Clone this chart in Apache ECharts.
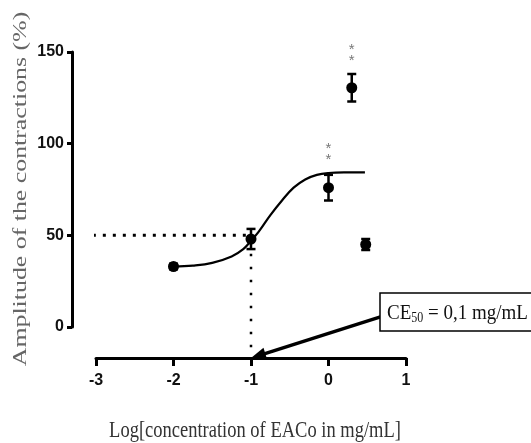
<!DOCTYPE html>
<html>
<head>
<meta charset="utf-8">
<script src="https://cdn.jsdelivr.net/npm/echarts@6/dist/echarts.min.js"></script>
<style>html,body{margin:0;padding:0;background:#fff;}#c{width:531px;height:443px;}</style>
</head>
<body>
<div id="c"></div>
<script>
// ---- data ----
const logConc   = [-2, -1, 0, 0.3, 0.48];
const amplitude = [33, 48, 76, 130.5, 45];
const sem       = [1.5, 5.5, 7, 7.5, 3];
// fitted sigmoid curve
const fitX = [-2, -1.75, -1.5, -1.25, -1.1, -1, -0.9, -0.75, -0.6, -0.45, -0.3, -0.15, 0, 0.2, 0.47];
const fitY = [33, 33.5, 35, 38.5, 42.5, 47, 52, 61, 69, 76, 80.5, 83, 84, 84.3, 84.3];
// significance marks
const sigX = [0, 0.3];
const sigY = [94, 148];
const sigText = ['*\n*', '*\n*'];
// EC50 annotation
const ec50Log = -1;
const ec50Level = 50;
const arrowStart = [0.67, 5.5];
const xTickValues = [-3, -2, -1, 0, 1];
const yTickValues = [0, 50, 100, 150];

// ---- layout ----
const gridLeft = 96, gridRight = 125, gridTop = 52, gridBottom = 116;
const xAxisOffsetPx = 31, yAxisOffsetPx = 24;
const plotH = 443 - gridTop - gridBottom;
const yMin = yTickValues[0], yMax = yTickValues[yTickValues.length - 1];
const xAxisLevel = -xAxisOffsetPx * (yMax - yMin) / plotH; // y value where the offset x axis lies

const chart = echarts.init(document.getElementById('c'));
const tickFont = "'Liberation Sans',Arial,sans-serif";
const serif = "'Liberation Serif','Times New Roman',serif";

chart.setOption({
  animation: false,
  backgroundColor: '#fff',
  grid: { left: gridLeft, right: gridRight, top: gridTop, bottom: gridBottom, containLabel: false },
  xAxis: {
    type: 'value', min: xTickValues[0], max: xTickValues[xTickValues.length - 1], interval: 1,
    offset: xAxisOffsetPx,
    axisLine: { show: true, onZero: false, lineStyle: { color: '#000', width: 3 } },
    axisTick: { show: true, length: 8, lineStyle: { color: '#000', width: 3 } },
    axisLabel: { color: '#111', fontFamily: tickFont, fontWeight: 'bold', fontSize: 16, margin: 15 },
    splitLine: { show: false }
  },
  yAxis: {
    type: 'value', min: yMin, max: yMax, interval: 50,
    offset: yAxisOffsetPx,
    axisLine: { show: true, onZero: false, lineStyle: { color: '#000', width: 3 } },
    axisTick: { show: true, length: 5, lineStyle: { color: '#000', width: 3 } },
    axisLabel: { color: '#111', fontFamily: tickFont, fontWeight: 'bold', fontSize: 16, margin: 8 },
    splitLine: { show: false }
  },
  graphic: [
    {
      type: 'text', x: 21, y: 189, rotation: Math.PI / 2, scaleX: 1.36,
      style: { text: 'Amplitude of the contractions (%)', fontFamily: serif, fontSize: 19, fill: '#666',
               align: 'center', verticalAlign: 'middle', textAlign: 'center', textVerticalAlign: 'middle' }
    },
    {
      type: 'text', x: 255, y: 431, scaleY: 1.22,
      style: { text: 'Log[concentration of EACo in mg/mL]', fontFamily: serif, fontSize: 18.5, fill: '#333',
               align: 'center', verticalAlign: 'middle', textAlign: 'center', textVerticalAlign: 'middle' }
    },
    {
      type: 'rect', z: 10, shape: { x: 380, y: 293, width: 170, height: 38 },
      style: { fill: '#fff', stroke: '#000', lineWidth: 1.5 }
    },
    {
      type: 'text', z: 11, x: 387, y: 313, scaleY: 1.15,
      style: {
        text: '{n|CE}{s|50}{n| = 0,1 mg/mL}', fill: '#111',
        verticalAlign: 'middle', textVerticalAlign: 'middle',
        rich: {
          n: { fontFamily: serif, fontSize: 19, fill: '#111', color: '#111' },
          s: { fontFamily: serif, fontSize: 12, fill: '#111', color: '#111', padding: [10, 0, 0, 0] }
        }
      }
    }
  ],
  series: [
    {
      name: 'fit', type: 'line', smooth: 0.4, showSymbol: false, symbol: 'none',
      data: fitX.map((x, i) => [x, fitY[i]]),
      lineStyle: { color: '#000', width: 2.2 }, z: 3
    },
    {
      name: 'hline', type: 'line', symbol: 'none', clip: false,
      data: [[xTickValues[0] - 0.17, ec50Level], [ec50Log, ec50Level]],
      lineStyle: { color: '#000', width: 3, type: [3, 7], cap: 'butt' }, z: 2
    },
    {
      name: 'vline', type: 'line', symbol: 'none', clip: false,
      data: [[ec50Log, 40], [ec50Log, xAxisLevel]],
      lineStyle: { color: '#000', width: 2.5, type: [2.5, 10.5], cap: 'butt' }, z: 2
    },
    {
      name: 'arrow', type: 'custom', clip: false, z: 6,
      data: [[arrowStart[0], arrowStart[1], ec50Log, xAxisLevel]],
      renderItem: function (params, api) {
        const p0 = api.coord([api.value(0), api.value(1)]);
        const p1 = api.coord([api.value(2), api.value(3)]);
        const dx = p1[0] - p0[0], dy = p1[1] - p0[1];
        const len = Math.sqrt(dx * dx + dy * dy);
        const ux = dx / len, uy = dy / len;
        const hl = 15, hw = 6;
        const bx = p1[0] - ux * hl, by = p1[1] - uy * hl;
        return {
          type: 'group', children: [
            { type: 'line', shape: { x1: p0[0], y1: p0[1], x2: bx + ux * 2, y2: by + uy * 2 },
              style: { stroke: '#000', lineWidth: 3.5 } },
            { type: 'polygon', shape: { points: [[p1[0], p1[1]], [bx - uy * hw, by + ux * hw], [bx + uy * hw, by - ux * hw]] },
              style: { fill: '#000' } }
          ]
        };
      }
    },
    {
      name: 'err', type: 'custom', clip: false, z: 4,
      data: logConc.map((x, i) => [x, amplitude[i] - sem[i], amplitude[i] + sem[i]]),
      renderItem: function (params, api) {
        const x = api.value(0);
        const lo = api.coord([x, api.value(1)]);
        const hi = api.coord([x, api.value(2)]);
        const cw = 4.5;
        const st = { stroke: '#000', lineWidth: 2.5 };
        return {
          type: 'group', children: [
            { type: 'line', shape: { x1: lo[0], y1: lo[1], x2: hi[0], y2: hi[1] }, style: st },
            { type: 'line', shape: { x1: lo[0] - cw, y1: lo[1], x2: lo[0] + cw, y2: lo[1] }, style: st },
            { type: 'line', shape: { x1: hi[0] - cw, y1: hi[1], x2: hi[0] + cw, y2: hi[1] }, style: st }
          ]
        };
      }
    },
    {
      name: 'mean', type: 'scatter', symbol: 'circle', symbolSize: 11, z: 5,
      itemStyle: { color: '#000', opacity: 1 },
      data: logConc.map((x, i) => [x, amplitude[i]])
    },
    {
      name: 'sig', type: 'scatter', symbolSize: 0, z: 5, clip: false,
      data: sigX.map((x, i) => ({ value: [x, sigY[i]], label: { formatter: sigText[i] } })),
      label: { show: true, position: 'inside', color: '#555', fontSize: 15, lineHeight: 11, fontFamily: 'Liberation Sans' }
    }
  ]
});
</script>
</body>
</html>
